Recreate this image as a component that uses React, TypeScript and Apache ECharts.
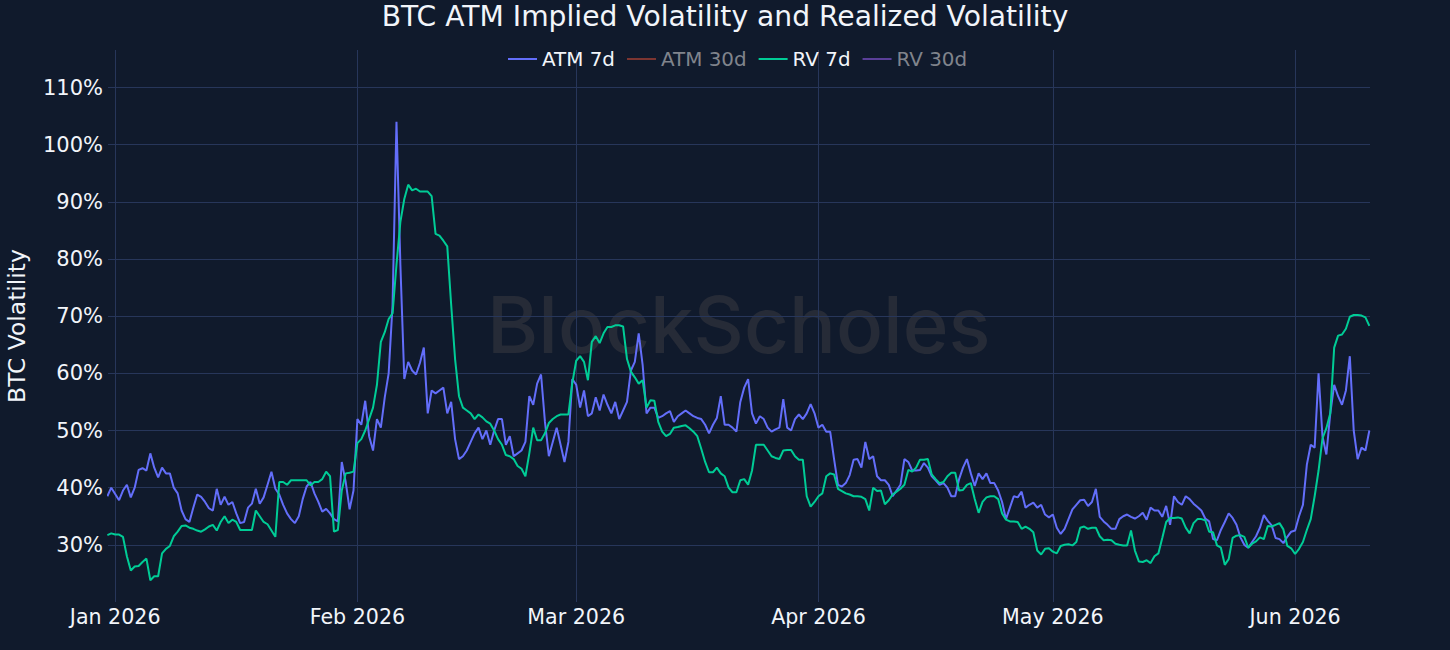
import React, { useEffect, useRef } from "react";
import * as echarts from "echarts";

// Half-day samples starting 31 Dec 2025 00:00 (local), 12h apart
const START = { year: 2025, month: 11, day: 31 };
const STEP_HOURS = 12;

const MONTHS = ["Jan", "Feb", "Mar", "Apr", "May", "Jun", "Jul", "Aug", "Sep", "Oct", "Nov", "Dec"];

const seriesNames = ["ATM 7d", "ATM 30d", "RV 7d", "RV 30d"];

// ATM 7d implied volatility (%)
const atm7d: number[] = [
  38.5, 40, 38.9, 37.8, 39.5, 40.5, 38.3, 40, 43.1, 43.4,
  43, 46, 43.5, 41.8, 43.5, 42.5, 42.5, 40, 39, 36,
  34.5, 34, 36.5, 38.8, 38.4, 37.5, 36.4, 36, 39.8, 37,
  38.4, 37, 37.5, 35.5, 33.8, 34, 36.5, 37.2, 39.8, 37.2,
  38.3, 40.5, 42.8, 39.8, 38.8, 37, 35.5, 34.5, 33.8, 35,
  38, 40.2, 41, 39, 37.5, 35.8, 36.3, 35.5, 34.5, 34.1,
  44.5, 41, 36.2, 39.5, 52, 51, 55.2, 49, 46.5, 52,
  50.5, 55.8, 60, 72, 104, 79, 59, 62, 60.5, 59.8,
  61.8, 64.5, 53, 57, 56.5, 57, 57.5, 53, 55, 48.5,
  45, 45.5, 46.5, 48, 49.5, 50.5, 48.5, 50, 47.5, 50,
  52, 52, 47.5, 49, 45.5, 46, 46.5, 48,
  56, 54.5, 58.2, 59.8, 51.5, 45.5, 48, 50.5, 47.5, 44.5,
  48, 59, 58, 54, 57, 52.5, 53, 55.8, 53.5, 56.3,
  54.5, 53, 55, 52, 53.5, 55, 60.5, 62, 67, 61.5,
  53, 54, 54, 52.2, 52.5, 53, 53.4, 51.5, 52.5, 53,
  53.5, 53, 52.5, 52.2, 52, 51, 49.5, 51, 52.2, 56,
  51, 51, 50.5, 49.8,
  55, 57.5, 59, 53, 51.2, 52.5, 52, 50.5, 49.8, 50.2,
  50.5, 55.5, 50.5, 50, 52, 52.8, 52, 53, 54.6, 53,
  50.5, 51, 49.8, 49.8, 45, 40.5, 40.2, 40.8, 42.2, 44.9,
  45, 43.5, 48, 45, 45.5, 42, 41.3, 41.3, 40.5, 38.5,
  39.5, 40.5, 45, 44.5, 43, 43, 43.1, 44.3, 43.5, 42,
  41.3, 40.5, 40.8, 40,
  38.5, 38.5, 41.5, 43.5, 45, 42.5, 40.3, 42.5, 41.5, 42.5,
  40.8, 40.8, 39.5, 37.5, 34.5, 36.5, 38.5, 38.3, 39.3, 36.5,
  37, 37.4, 36.5, 37, 35.3, 34.8, 35.3, 33, 31.9, 32.8,
  34.5, 36.2, 37, 37.8, 37.9, 36.8, 37.5, 39.8, 34.9, 34.1,
  33.5, 32.8, 32.8, 34.5, 35, 35.3, 34.9, 34.6, 35, 35.6,
  34.4, 36.5, 36, 36,
  34.9, 36.8, 33.5, 38.5, 37.5, 37, 38.5, 38, 37.2, 36.6,
  36, 34.6, 34.1, 31, 30.8, 32.6, 34, 35.5, 34.7, 33.5,
  31.3, 30, 29.5, 30.5, 31.5, 33, 35.2, 34.2, 33.4, 31.2,
  31, 30.3, 31.4, 32.3, 32.5, 35, 37, 44, 47.5, 47,
  60, 49, 45.8, 53, 58, 56, 54.5, 57, 63, 50,
  45, 47, 46.5, 50,
];

// ATM 30d and RV 30d are legend-only (hidden) traces in the reference
const atm30d: number[] = [];
const rv30d: number[] = [];

// RV 7d realized volatility (%)
const rv7d: number[] = [
  31.7, 32, 31.8, 31.8, 31.4, 28, 25.5, 26.2, 26.3, 27,
  27.6, 23.8, 24.5, 24.5, 28.5, 29.3, 29.8, 31.5, 32.3, 33.3,
  33.4, 33, 32.8, 32.5, 32.3, 32.7, 33.2, 33.5, 32.5, 34,
  35, 33.8, 34.4, 34, 32.6, 32.6, 32.6, 32.6, 36, 35,
  34, 33.6, 32.5, 31.4, 41, 41, 40.5, 41.3, 41.3, 41.3,
  41.3, 41.3, 40.4, 41, 41, 41.5, 42.8, 42, 32.3, 32.6,
  39.5, 42.5, 42.6, 42.8, 47.8, 48.5, 50, 52, 54, 58,
  65.5, 67.2, 69.5, 70.5, 79, 86.5, 90.5, 93, 92, 92.3,
  91.8, 91.8, 91.8, 91, 84.4, 84.1, 83.2, 82.2, 72, 62.5,
  56, 54, 53.5, 53, 52, 52.8, 52.3, 51.6, 51.2, 50,
  48.5, 47.5, 45.7, 45.5, 45, 43.8, 43.3, 42,
  46, 50.5, 48.3, 48.3, 49.5, 51.3, 52, 52.5, 52.8, 52.8,
  52.8, 58.3, 62.2, 63, 62, 58.8, 65.5, 66.5, 65.3, 67,
  68.1, 68.1, 68.4, 68.4, 68.2, 62.5, 60.3, 59.3, 58.2, 58.8,
  54, 55.3, 55.2, 51.5, 49.8, 49, 49.4, 50.5, 50.6, 50.8,
  50.9, 50.4, 49.8, 49, 46.8, 44.5, 42.7, 42.7, 43.5, 42.5,
  42, 40, 39.2, 39.2,
  41.3, 41.5, 40.5, 43, 47.5, 47.5, 47.5, 46.5, 45.5, 45.2,
  45, 46.5, 46.6, 46.6, 45.5, 44.9, 44.9, 38.5, 36.7, 37.5,
  38.5, 39, 42, 42.5, 42.3, 39.8, 39.4, 39, 38.8, 38.5,
  38.5, 38.4, 38, 36, 40, 39.4, 39.5, 37.1, 37.8, 38.8,
  39.3, 39.8, 40.5, 43.1, 42.8, 43.5, 44.9, 44.9, 45, 42.3,
  41.5, 40.8, 41, 42,
  42.6, 42.6, 39.5, 39.6, 40.5, 40.8, 38, 35.6, 37.5, 38.3,
  38.5, 38.5, 38, 35.5, 34.4, 34.1, 34.1, 34, 32.8, 33.2,
  32.8, 32.2, 29, 28.3, 29.3, 29.4, 28.8, 28.5, 29.8, 30,
  30.1, 29.9, 30.5, 33, 33.2, 32.8, 33, 33, 31.5, 30.8,
  30.9, 30.8, 30.2, 30, 29.9, 29.9, 32.5, 29, 27.1, 27,
  27.3, 26.8, 28, 28.5,
  31.2, 34, 34.7, 34.7, 34.8, 34.6, 33, 32, 33.8, 34.5,
  34.5, 34.3, 32.3, 32.2, 29.9, 29.5, 26.5, 27.5, 31.2, 31.6,
  31.7, 31.4, 29.5, 30.2, 30.6, 31.3, 31, 33.3, 33.2, 33.5,
  33.8, 32.7, 29.8, 29.4, 28.4, 29.3, 30.5, 32.6, 34.5, 38.5,
  43, 48.6, 50.4, 53, 64.5, 66.6, 66.8, 67.8, 69.9, 70.2,
  70.2, 70.1, 69.8, 68.3,
];

const yTickValues = [30, 40, 50, 60, 70, 80, 90, 100, 110];

const BG = "#101a2c";
const GRID = "#27365a";
const TXT = "#f2f5fa";
const DIM = "#80848c";
const FONT = "DejaVu Sans";

export default function App() {
  const ref = useRef<HTMLDivElement>(null);

  useEffect(() => {
    if (!ref.current) return;
    const chart = echarts.init(ref.current, undefined, { renderer: "svg" });
    const t0 = new Date(START.year, START.month, START.day).getTime();
    const step = STEP_HOURS * 3600 * 1000;
    const toPairs = (arr: number[]) => arr.map((v, i) => [t0 + i * step, v]);
    const tEnd = t0 + (Math.max(atm7d.length, rv7d.length) - 1) * step;
    const pad = 2 * 3600 * 1000;

    chart.setOption({
      animation: false,
      backgroundColor: BG,
      title: {
        text: "BTC ATM Implied Volatility and Realized Volatility",
        left: "center",
        top: 2,
        padding: 0,
        textStyle: { color: TXT, fontSize: 28.2, fontWeight: "normal", fontFamily: FONT },
      },
      legend: {
        left: 508,
        top: 49,
        padding: 0,
        icon: "rect",
        itemWidth: 29,
        itemHeight: 2,
        itemGap: 12,
        textStyle: { color: TXT, fontSize: 19.9, fontFamily: FONT },
        data: [
          { name: seriesNames[0], textStyle: { color: TXT } },
          { name: seriesNames[1], itemStyle: { color: "#7c3531" }, textStyle: { color: DIM } },
          { name: seriesNames[2], textStyle: { color: TXT } },
          { name: seriesNames[3], itemStyle: { color: "#5a3f99" }, textStyle: { color: DIM } },
        ],
      },
      graphic: [
        {
          type: "text",
          left: 739 - 252,
          top: 325 - 40,
          z: 0,
          silent: true,
          style: {
            text: "BlockScholes",
            fill: "#262b37",
            font: "500 78px Inter",
          },
        },
      ],
      grid: { left: 108, right: 80, top: 50, bottom: 48, containLabel: false, outerBoundsMode: "none" },
      xAxis: {
        type: "time",
        min: t0 + pad,
        max: tEnd + pad,
        splitNumber: 6,
        minInterval: 28 * 24 * 3600 * 1000,
        maxInterval: 31 * 24 * 3600 * 1000,
        axisLine: { show: false },
        axisTick: { show: false },
        splitLine: { show: true, showMinLine: false, showMaxLine: false, lineStyle: { color: GRID, width: 1 } },
        axisLabel: {
          color: TXT,
          fontSize: 20.6,
          fontFamily: FONT,
          margin: 4,
          showMinLabel: false,
          showMaxLabel: false,
          hideOverlap: false,
          formatter: (val: number) => {
            const d = new Date(val);
            if (d.getDate() !== 1 || d.getHours() !== 0) return "";
            return MONTHS[d.getMonth()] + " " + d.getFullYear();
          },
        },
      },
      yAxis: {
        type: "value",
        min: 20,
        max: 116.56,
        interval: 10,
        name: "BTC Volatility",
        nameLocation: "middle",
        nameGap: 80,
        nameTextStyle: { color: TXT, fontSize: 23.4, fontFamily: FONT },
        axisLine: { show: false },
        axisTick: { show: false },
        splitLine: { show: true, showMinLine: false, showMaxLine: false, lineStyle: { color: GRID, width: 1 } },
        axisLabel: {
          color: TXT,
          fontSize: 21,
          fontFamily: FONT,
          margin: 5,
          showMinLabel: false,
          showMaxLabel: false,
          formatter: (v: number) => (yTickValues.indexOf(Math.round(v * 1000) / 1000) >= 0 ? v + "%" : ""),
        },
      },
      series: [
        { name: seriesNames[0], type: "line", data: toPairs(atm7d), showSymbol: false, symbol: "none", color: "#636efa", lineStyle: { width: 2, color: "#636efa" }, z: 2 },
        { name: seriesNames[1], type: "line", data: toPairs(atm30d), showSymbol: false, symbol: "none", color: "#EF553B", lineStyle: { width: 2, color: "#EF553B" }, z: 2 },
        { name: seriesNames[2], type: "line", data: toPairs(rv7d), showSymbol: false, symbol: "none", color: "#00cc96", lineStyle: { width: 2, color: "#00cc96" }, z: 3 },
        { name: seriesNames[3], type: "line", data: toPairs(rv30d), showSymbol: false, symbol: "none", color: "#ab63fa", lineStyle: { width: 2, color: "#ab63fa" }, z: 2 },
      ],
    });
    return () => chart.dispose();
  }, []);

  return (
    <div
      ref={ref}
      style={{ position: "fixed", left: 0, top: 0, width: 1450, height: 650, background: BG }}
    />
  );
}
